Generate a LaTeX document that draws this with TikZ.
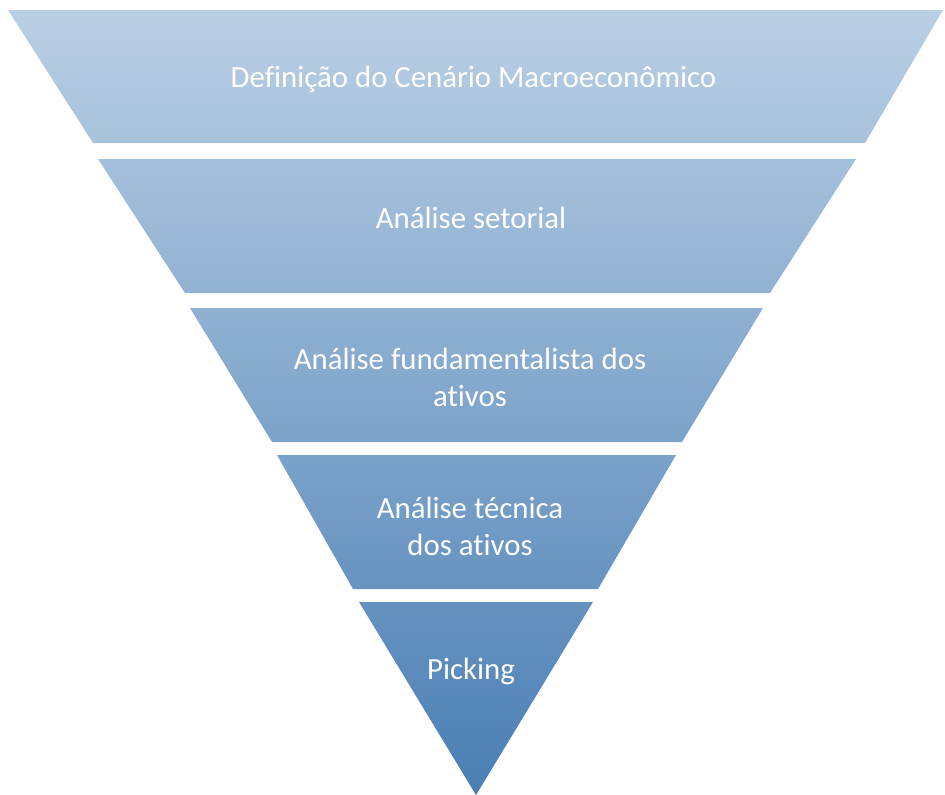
\documentclass[tikz,border=0pt]{standalone}
\usepackage{fontspec}
\setmainfont{Carlito}[Ligatures={NoCommon,NoRequired,NoContextual}]
\begin{document}
\begin{tikzpicture}[x=1pt,y=-1pt]
\useasboundingbox (0,0) rectangle (945,795);
\definecolor{topc}{RGB}{186,207,228}
\definecolor{botc}{RGB}{74,126,180}
\tikzset{
  lbl/.style={text=white, font=\fontsize{30.8}{37}\selectfont, align=center, inner sep=0pt},
  bandshade/.style={top color=topc, bottom color=botc}
}
% bands
\begin{scope}
\clip (8,10) -- (943,10) -- (865,143) -- (93,143) -- cycle;
\shade[bandshade] (0,10) rectangle (945,795);
\end{scope}
\begin{scope}
\clip (98,159) -- (856,159) -- (770,293) -- (185,293) -- cycle;
\shade[bandshade] (0,10) rectangle (945,795);
\end{scope}
\begin{scope}
\clip (190,308) -- (763,308) -- (682,442) -- (272,442) -- cycle;
\shade[bandshade] (0,10) rectangle (945,795);
\end{scope}
\begin{scope}
\clip (277,455) -- (676,455) -- (598,589) -- (353,589) -- cycle;
\shade[bandshade] (0,10) rectangle (945,795);
\end{scope}
\begin{scope}
\clip (359,602) -- (593,602) -- (476,795) -- cycle;
\shade[bandshade] (0,10) rectangle (945,795);
\end{scope}
% labels
\node[lbl, anchor=base] (l1) at (473.5,87) {Definição do Cenário Macroeconômico};
\node[lbl, anchor=base] (l2) at (471,228) {Análise setorial};
\node[lbl] (l3) at (470,377) {Análise fundamentalista dos\\ativos};
\node[lbl] (l4) at (470,526) {Análise técnica\\dos ativos};
\node[lbl, anchor=base] (l5) at (471,679) {Picking};
\end{tikzpicture}
\end{document}
